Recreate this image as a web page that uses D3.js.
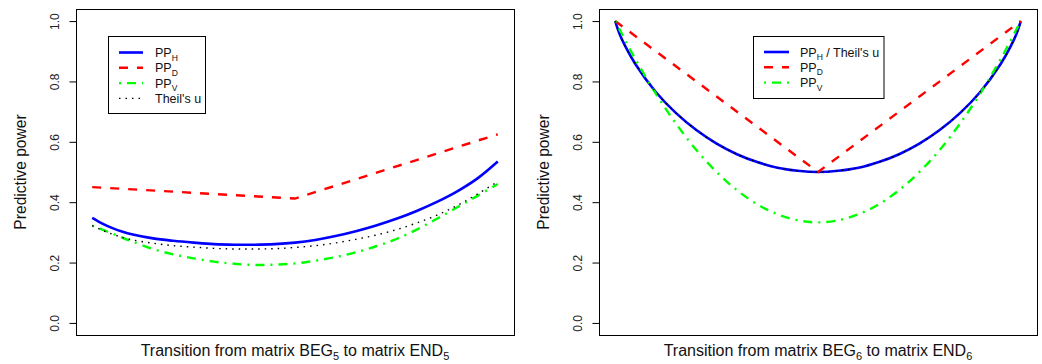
<!DOCTYPE html>
<html>
<head>
<meta charset="utf-8">
<script src="https://cdn.jsdelivr.net/npm/d3@7/dist/d3.min.js"></script>
<style>
  body { margin: 0; background: #fff; }
  svg { display: block; font-family: "Liberation Sans", Arial, Helvetica, sans-serif; }
</style>
</head>
<body>
<svg id="chart" width="1042" height="364"></svg>
<script>
const yTicks = [0, 0.2, 0.4, 0.6, 0.8, 1.0];

// left panel: BEG5 -> END5
const leftT = [0, 0.025, 0.05, 0.075, 0.1, 0.15, 0.2, 0.25, 0.3, 0.35, 0.4, 0.45, 0.5, 0.55, 0.6, 0.65, 0.7, 0.75, 0.8, 0.85, 0.9, 0.95, 1];
const leftPPH = [0.348, 0.329, 0.314, 0.302, 0.293, 0.280, 0.272, 0.266, 0.261, 0.259, 0.259, 0.261, 0.266, 0.275, 0.288, 0.304, 0.323, 0.345, 0.371, 0.401, 0.436, 0.479, 0.535];
const leftTheil = [0.322, 0.307, 0.294, 0.283, 0.275, 0.264, 0.256, 0.251, 0.247, 0.245, 0.245, 0.246, 0.250, 0.256, 0.265, 0.277, 0.291, 0.309, 0.331, 0.357, 0.389, 0.427, 0.468];
const leftPPV = [0.322, 0.309, 0.296, 0.282, 0.269, 0.245, 0.227, 0.214, 0.203, 0.196, 0.192, 0.193, 0.197, 0.206, 0.218, 0.234, 0.254, 0.278, 0.309, 0.345, 0.383, 0.421, 0.460];
const leftPPDT = [0, 0.5, 1];
const leftPPD = [0.450, 0.412, 0.625];

// right panel: BEG6 -> END6 (PP_H and Theil's u coincide)
const rightT = [0, 0.01, 0.025, 0.05, 0.1, 0.15, 0.2, 0.25, 0.3, 0.35, 0.4, 0.45, 0.5, 0.55, 0.6, 0.65, 0.7, 0.75, 0.8, 0.85, 0.9, 0.95, 0.975, 0.99, 1];
const rightPPH = [1, 0.960, 0.916, 0.857, 0.765, 0.695, 0.639, 0.594, 0.559, 0.533, 0.514, 0.504, 0.500, 0.504, 0.514, 0.533, 0.559, 0.594, 0.639, 0.695, 0.765, 0.857, 0.916, 0.960, 1];
const rightPPV = [1, 0.974, 0.935, 0.873, 0.760, 0.660, 0.573, 0.500, 0.440, 0.393, 0.360, 0.340, 0.333, 0.340, 0.360, 0.393, 0.440, 0.500, 0.573, 0.660, 0.760, 0.873, 0.935, 0.974, 1];
const rightPPDT = [0, 0.5, 1];
const rightPPD = [1, 0.5, 1];

const lineStyles = {
  pph:   { color: '#0000ff', width: 2.6, dash: null },
  ppd:   { color: '#ff0000', width: 2.4, dash: '9,9' },
  ppv:   { color: '#00ff00', width: 2.4, dash: '2,6,9,6' },
  theil: { color: '#000000', width: 1.4, dash: '1.5,5' }
};

const plotTop = 9;
const plotBottom = 335;

const panels = [
  {
    x0: 76, x1: 514, sub: '5',
    series: [
      { key: 'pph', t: leftT, v: leftPPH, smooth: true },
      { key: 'ppd', t: leftPPDT, v: leftPPD, smooth: false },
      { key: 'ppv', t: leftT, v: leftPPV, smooth: true },
      { key: 'theil', t: leftT, v: leftTheil, smooth: true }
    ],
    legend: {
      x: 108.5, y: 36.5, w: 97, h: 77, lineX0: 119, lineX1: 143, textX: 155, rowY0: 52.5, rowStep: 15.3,
      rows: [
        { key: 'pph', label: 'PP', sub: 'H', suffix: '' },
        { key: 'ppd', label: 'PP', sub: 'D', suffix: '' },
        { key: 'ppv', label: 'PP', sub: 'V', suffix: '' },
        { key: 'theil', label: "Theil's u", sub: '', suffix: '' }
      ]
    }
  },
  {
    x0: 599, x1: 1037, sub: '6',
    series: [
      { key: 'pph', t: rightT, v: rightPPH, smooth: true },
      { key: 'ppd', t: rightPPDT, v: rightPPD, smooth: false },
      { key: 'ppv', t: rightT, v: rightPPV, smooth: true },
      { key: 'theil', t: rightT, v: rightPPH, smooth: true }
    ],
    legend: {
      x: 753.5, y: 36.5, w: 130.5, h: 62, lineX0: 764, lineX1: 789, textX: 800, rowY0: 52, rowStep: 15.3,
      rows: [
        { key: 'pph', label: 'PP', sub: 'H', suffix: " / Theil's u" },
        { key: 'ppd', label: 'PP', sub: 'D', suffix: '' },
        { key: 'ppv', label: 'PP', sub: 'V', suffix: '' }
      ]
    }
  }
];

const svg = d3.select('#chart');

function styleLine(sel, key) {
  const st = lineStyles[key];
  sel.attr('fill', 'none')
    .attr('stroke', st.color)
    .attr('stroke-width', st.width)
    .attr('stroke-dasharray', st.dash);
}

function drawPanel(p) {
  const x = d3.scaleLinear().domain([-0.04, 1.04]).range([p.x0, p.x1]);
  const y = d3.scaleLinear().domain([-0.04, 1.04]).range([plotBottom, plotTop]);
  const g = svg.append('g');

  p.series.forEach(s => {
    const line = d3.line()
      .x(d => x(d[0]))
      .y(d => y(d[1]))
      .curve(s.smooth ? d3.curveCatmullRom.alpha(0.5) : d3.curveLinear);
    g.append('path')
      .datum(d3.zip(s.t, s.v))
      .attr('d', line)
      .call(styleLine, s.key);
  });

  // y axis with vertical labels, R style
  const axis = d3.axisLeft(y)
    .tickValues(yTicks)
    .tickFormat(d3.format('.1f'))
    .tickSize(7)
    .tickSizeOuter(0);
  const ag = g.append('g')
    .attr('transform', `translate(${p.x0 + 0.5},0)`)
    .call(axis)
    .attr('font-family', null)
    .attr('font-size', 12);
  ag.select('.domain').remove();
  ag.selectAll('.tick line').attr('stroke', '#000');
  ag.selectAll('.tick text')
    .attr('fill', '#222')
    .attr('transform', 'rotate(-90)')
    .attr('x', 0)
    .attr('y', -18)
    .attr('dy', 0)
    .attr('text-anchor', 'middle');

  // plot box
  g.append('rect')
    .attr('x', p.x0 + 0.5)
    .attr('y', plotTop + 0.5)
    .attr('width', p.x1 - p.x0)
    .attr('height', plotBottom - plotTop)
    .attr('fill', 'none')
    .attr('stroke', '#000');

  // axis titles
  g.append('text')
    .attr('transform', `translate(${p.x0 - 50.5},${(plotTop + plotBottom) / 2}) rotate(-90)`)
    .attr('text-anchor', 'middle')
    .attr('fill', '#111')
    .style('font-size', '15.6px')
    .text('Predictive power');

  const xl = g.append('text')
    .attr('x', (p.x0 + p.x1) / 2)
    .attr('y', 355.5)
    .attr('text-anchor', 'middle')
    .attr('fill', '#111')
    .style('font-size', '16px');
  xl.append('tspan').text('Transition from matrix BEG');
  xl.append('tspan').attr('dy', 4).style('font-size', '11px').text(p.sub);
  xl.append('tspan').attr('dy', -4).text(' to matrix END');
  xl.append('tspan').attr('dy', 4).style('font-size', '11px').text(p.sub);

  // legend
  const L = p.legend;
  const lg = g.append('g');
  lg.append('rect')
    .attr('x', L.x).attr('y', L.y)
    .attr('width', L.w).attr('height', L.h)
    .attr('fill', '#fff').attr('stroke', '#000');
  L.rows.forEach((r, i) => {
    const ry = L.rowY0 + i * L.rowStep;
    lg.append('line')
      .attr('x1', L.lineX0).attr('x2', L.lineX1)
      .attr('y1', ry).attr('y2', ry)
      .call(styleLine, r.key);
    const t = lg.append('text')
      .attr('x', L.textX)
      .attr('y', ry + 4.5)
      .attr('fill', '#111')
      .style('font-size', '12.5px');
    t.append('tspan').text(r.label);
    if (r.sub) {
      t.append('tspan').attr('dy', 3.5).style('font-size', '8.5px').text(r.sub);
      if (r.suffix) t.append('tspan').attr('dy', -3.5).text(r.suffix);
    }
  });
}

panels.forEach(drawPanel);
</script>
</body>
</html>
